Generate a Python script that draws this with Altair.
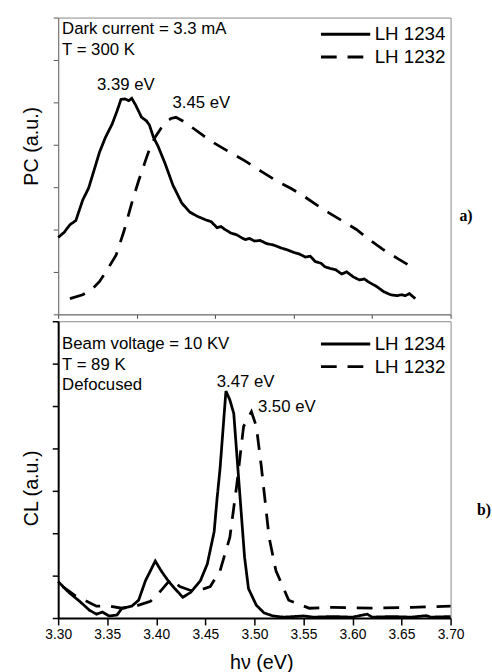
import altair as alt
import pandas as pd

SAMPLES = ["LH 1234", "LH 1232"]

# (a) photocurrent spectra at 300 K
pc_ev_1234 = [3.300, 3.306, 3.312, 3.318, 3.325, 3.331, 3.337, 3.342, 3.348, 3.355,
              3.360, 3.364, 3.368, 3.372, 3.375, 3.379, 3.385, 3.390, 3.393, 3.397,
              3.402, 3.409, 3.417, 3.426, 3.434, 3.442, 3.450, 3.456, 3.462, 3.466,
              3.470, 3.476, 3.482, 3.488, 3.491, 3.495, 3.500, 3.506, 3.512, 3.520,
              3.527, 3.533, 3.540, 3.546, 3.552, 3.557, 3.562, 3.568, 3.572, 3.578,
              3.583, 3.589, 3.594, 3.601, 3.607, 3.612, 3.618, 3.625, 3.632, 3.639,
              3.645, 3.650, 3.654, 3.658, 3.664]
pc_1234 = [25.9, 27.6, 30.2, 31.6, 38.5, 42.5, 49.0, 54.5, 59.5, 64.1,
           68.5, 72.4, 72.6, 72.0, 72.8, 70.5, 66.4, 65.2, 63.8, 59.8,
           56.5, 50.8, 43.5, 37.5, 34.5, 33.0, 31.9, 31.2, 29.2, 29.6,
           28.6, 27.4, 26.8, 25.6, 25.2, 25.6, 24.7, 24.9, 23.9, 23.3,
           22.4, 21.8, 20.9, 20.3, 19.3, 19.6, 17.8, 17.2, 16.0, 15.4,
           15.0, 13.6, 14.3, 12.6, 11.6, 11.9, 10.6, 9.3, 7.6, 6.6,
           6.3, 6.6, 6.3, 7.0, 5.3]

pc_ev_1232 = [3.312, 3.325, 3.334, 3.342, 3.350, 3.359, 3.367, 3.375, 3.382, 3.389,
              3.394, 3.399, 3.405, 3.410, 3.415, 3.420, 3.428, 3.436, 3.448, 3.460,
              3.475, 3.490, 3.507, 3.523, 3.537, 3.550, 3.563, 3.576, 3.590, 3.604,
              3.617, 3.631, 3.647, 3.664]
pc_1232 = [5.3, 6.6, 8.3, 11.0, 15.0, 19.9, 28.0, 37.5, 45.0, 51.8,
           56.5, 59.8, 62.8, 64.8, 66.0, 66.4, 65.0, 63.1, 60.2, 57.5,
           54.6, 51.8, 48.2, 44.9, 42.5, 39.9, 37.0, 34.2, 31.4, 28.6,
           25.2, 21.9, 18.6, 15.3]

# (b) cathodoluminescence spectra at 89 K
cl_ev_1234 = [3.300, 3.307, 3.312, 3.322, 3.332, 3.339, 3.345, 3.352, 3.360, 3.365,
              3.375, 3.382, 3.389, 3.399, 3.405, 3.412, 3.419, 3.427, 3.435, 3.445,
              3.452, 3.459, 3.462, 3.465, 3.471, 3.475, 3.479, 3.482, 3.490, 3.494,
              3.502, 3.510, 3.519, 3.530, 3.550, 3.560, 3.580, 3.600, 3.615, 3.620,
              3.640, 3.660, 3.675, 3.680, 3.700]
cl_1234 = [12.3, 9.9, 8.3, 5.6, 2.6, 1.3, 2.0, 0.7, 1.0, 3.3,
           4.0, 6.0, 12.6, 19.2, 15.9, 12.6, 9.9, 7.0, 8.6, 12.6,
           18.2, 29.1, 40.4, 50.3, 76.5, 73.5, 68.9, 55.6, 20.5, 9.9,
           4.3, 1.7, 0.7, 0.3, 0.7, 0.3, 0.5, 0.3, 1.3, 0.3,
           0.5, 0.3, 0.8, 0.3, 0.5]

cl_ev_1232 = [3.305, 3.317, 3.325, 3.339, 3.352, 3.365, 3.379, 3.394, 3.405, 3.415,
              3.424, 3.435, 3.449, 3.455, 3.465, 3.475, 3.482, 3.489, 3.497, 3.502,
              3.507, 3.515, 3.522, 3.535, 3.556, 3.580, 3.620, 3.660, 3.700]
cl_1232 = [10.5, 7.6, 6.3, 4.0, 4.0, 3.3, 4.0, 5.6, 9.3, 13.2,
           10.6, 9.3, 9.9, 10.6, 15.9, 27.2, 44.7, 64.6, 69.5, 64.6,
           51.3, 27.2, 15.9, 6.0, 3.3, 3.6, 3.3, 3.6, 4.0]

# annotation texts and anchor points (eV, a.u.)
pc_notes = ["Dark current = 3.3 mA", "T = 300 K"]
pc_notes_ev = [3.304, 3.304]
pc_notes_y = [96.0, 89.0]
pc_peaks = ["3.39 eV", "3.45 eV"]
pc_peaks_ev = [3.369, 3.446]
pc_peaks_y = [77.4, 71.1]

cl_notes = ["Beam voltage = 10 KV", "T = 89 K", "Defocused"]
cl_notes_ev = [3.304, 3.304, 3.304]
cl_notes_y = [92.4, 85.4, 78.6]
cl_peaks = ["3.47 eV", "3.50 eV"]
cl_peaks_ev = [3.491, 3.533]
cl_peaks_y = [79.5, 71.2]

panel_tags = ["a)", "b)"]
panel_tags_ev = [3.709, 3.727]
panel_tags_y = [33.2, 36.4]

FONT = "Liberation Sans"
X_DOMAIN = [3.30, 3.70]
top_x_ticks = [round(3.30 + 0.02 * i, 2) for i in range(21)]
bottom_x_ticks = [round(3.30 + 0.025 * i, 3) for i in range(17)]
top_y_ticks = [i * 100 / 7 for i in range(8)]
bottom_y_ticks = [i * 100 / 14 for i in range(15)]


def spectra(ev_a, val_a, ev_b, val_b):
    return pd.concat([
        pd.DataFrame({"ev": ev_a, "val": val_a, "sample": SAMPLES[0]}),
        pd.DataFrame({"ev": ev_b, "val": val_b, "sample": SAMPLES[1]}),
    ])


def labels(texts, evs, ys):
    return pd.DataFrame({"ev": evs, "val": ys, "label": texts})


def legend(y0):
    return alt.Legend(
        title=None, orient="none", legendX=265, legendY=y0,
        symbolType="stroke", symbolSize=2500, symbolStrokeWidth=3,
        symbolStrokeColor="black", clipHeight=23, rowPadding=0,
        labelFont=FONT, labelFontSize=19, labelColor="black", labelOffset=3,
    )


def panel(df, notes, peaks, tag, x_axis, y_axis, leg, height):
    x = alt.X("ev:Q", scale=alt.Scale(domain=X_DOMAIN, nice=False, zero=False), axis=x_axis)
    y = alt.Y("val:Q", scale=alt.Scale(domain=[0, 100], nice=False, zero=False), axis=y_axis)
    lines = alt.Chart(df).mark_line(color="black", strokeWidth=2.8).encode(
        x=x, y=y,
        strokeDash=alt.StrokeDash(
            "sample:N",
            scale=alt.Scale(domain=SAMPLES, range=[[1, 0], [16, 11]]),
            legend=leg,
        ),
    )
    note_text = alt.Chart(notes).mark_text(
        align="left", baseline="middle", font=FONT, fontSize=17, color="black"
    ).encode(x="ev:Q", y="val:Q", text="label:N")
    peak_text = alt.Chart(peaks).mark_text(
        align="center", baseline="middle", font=FONT, fontSize=17, color="black"
    ).encode(x="ev:Q", y="val:Q", text="label:N")
    tag_text = alt.Chart(tag).mark_text(
        align="left", baseline="middle", font="Liberation Serif", fontSize=16,
        fontWeight="bold", color="black"
    ).encode(x="ev:Q", y="val:Q", text="label:N")
    return alt.layer(lines, note_text, peak_text, tag_text).properties(width=398, height=height)


top = panel(
    spectra(pc_ev_1234, pc_1234, pc_ev_1232, pc_1232),
    labels(pc_notes, pc_notes_ev, pc_notes_y),
    labels(pc_peaks, pc_peaks_ev, pc_peaks_y),
    labels(panel_tags[:1], panel_tags_ev[:1], panel_tags_y[:1]),
    alt.Axis(values=top_x_ticks, labels=False, title=None, tickSize=4, tickColor="#444",
             domainColor="#777", domainWidth=1, grid=False),
    alt.Axis(values=top_y_ticks, labels=False, title="PC (a.u.)", tickSize=5, tickColor="#555",
             domainColor="#777", domainWidth=1, grid=False, titleFont=FONT, titleFontSize=20,
             titleFontWeight="normal", titleColor="black", titleX=-27, titleY=130,
             titleBaseline="middle", titleAngle=270),
    legend(5.5),
    301,
)

bottom = panel(
    spectra(cl_ev_1234, cl_1234, cl_ev_1232, cl_1232),
    labels(cl_notes, cl_notes_ev, cl_notes_y),
    labels(cl_peaks, cl_peaks_ev, cl_peaks_y),
    labels(panel_tags[1:], panel_tags_ev[1:], panel_tags_y[1:]),
    alt.Axis(values=bottom_x_ticks, title="hν (eV)", grid=False, labelFlush=False,
             tickSize={"condition": {"test": "round(datum.value * 1000) % 50 != 0", "value": 4},
                       "value": 7},
             labelExpr="round(datum.value * 1000) % 50 == 0 ? format(datum.value, '.2f') : ''",
             tickColor="black", tickWidth=1.5, domainColor="black", domainWidth=2,
             labelFont=FONT, labelFontSize=14, labelColor="black", labelPadding=3,
             titleFont=FONT, titleFontSize=20, titleFontWeight="normal", titleColor="black",
             titleX=206, titleY=45, titleBaseline="middle"),
    alt.Axis(values=bottom_y_ticks, labels=False, title="CL (a.u.)", tickSize=6,
             tickColor="black", tickWidth=1.5, domainColor="black", domainWidth=2, grid=False,
             titleFont=FONT, titleFontSize=20, titleFontWeight="normal", titleColor="black",
             titleX=-27, titleY=169, titleBaseline="middle", titleAngle=270),
    legend(11.5),
    301,
)

chart = alt.vconcat(top, bottom, spacing=0).resolve_scale(
    strokeDash="independent"
).resolve_legend(
    strokeDash="independent"
).properties(
    padding={"left": 21, "top": 12, "right": 0, "bottom": 0},
    background="white",
).configure_view(
    stroke="#888", strokeWidth=1
)

chart.save("out.html", embed_options={"renderer": "svg", "actions": False})
